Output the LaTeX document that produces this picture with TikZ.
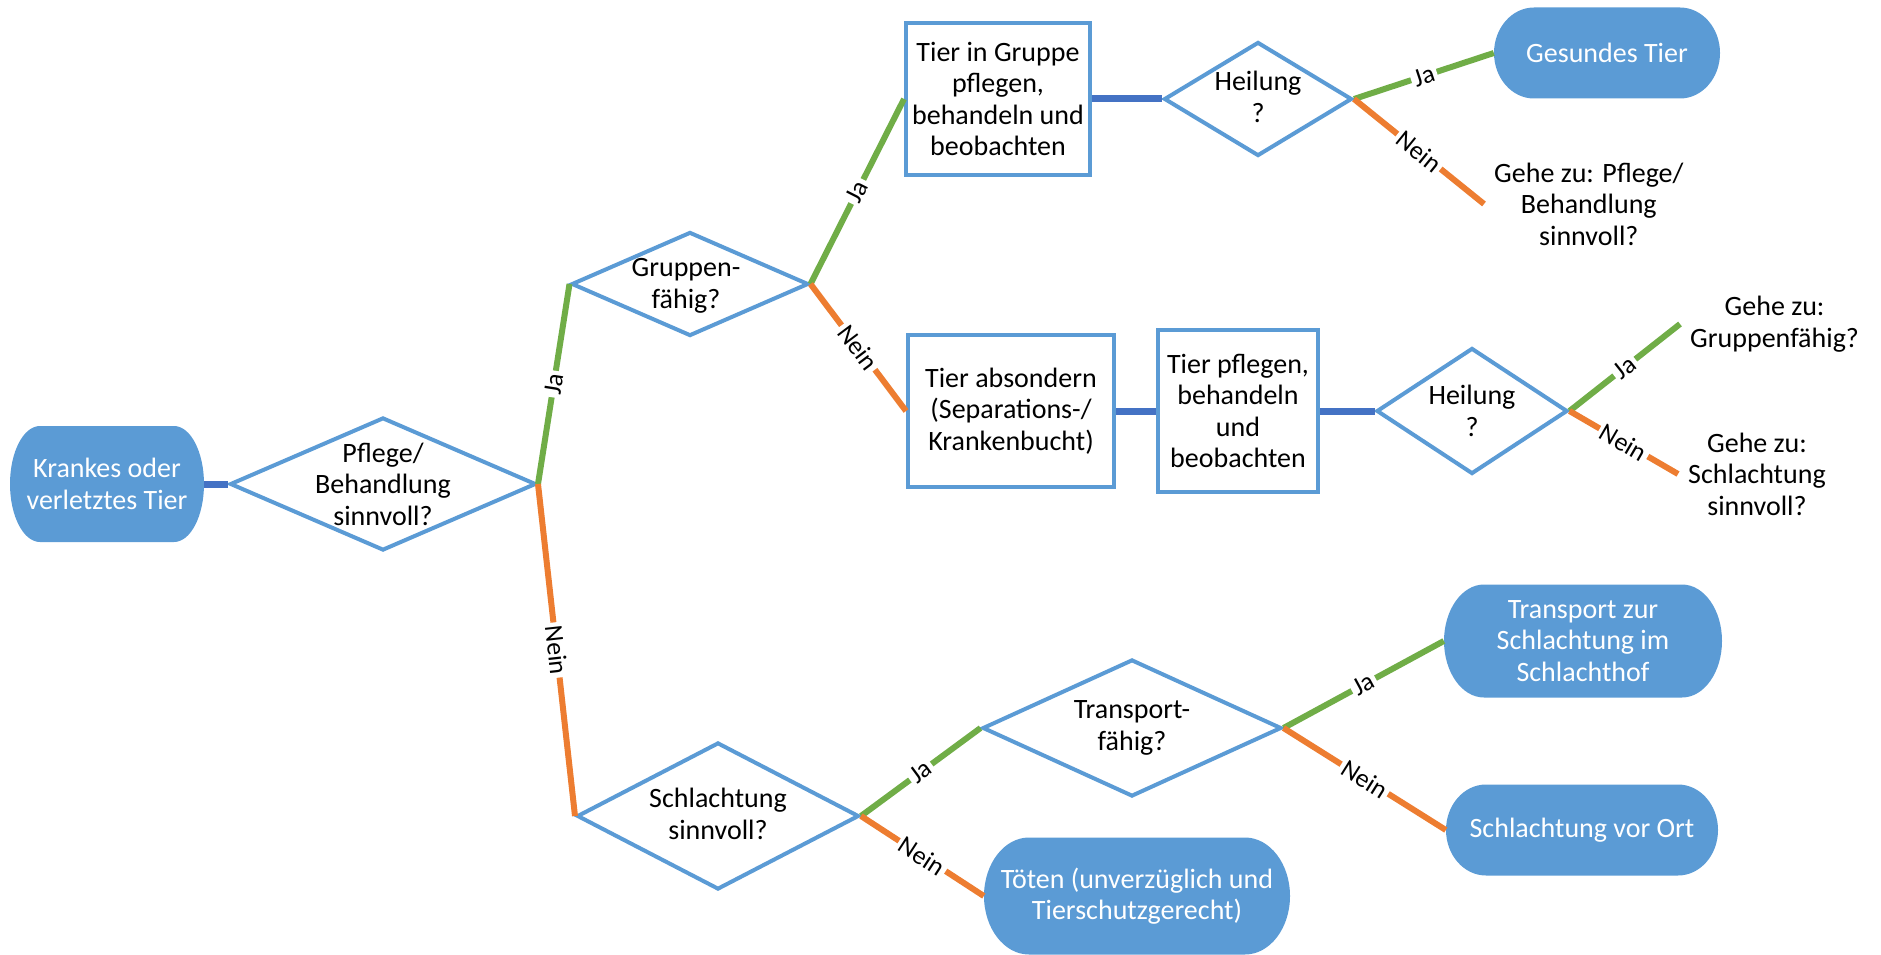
\documentclass[tikz,border=0pt]{standalone}
\usepackage{fontspec}
\setmainfont{Carlito}
\usetikzlibrary{shapes.geometric}
\definecolor{fillblue}{RGB}{91,155,213}
\definecolor{linkblue}{RGB}{68,114,196}
\definecolor{jagreen}{RGB}{112,173,71}
\definecolor{neinorange}{RGB}{237,125,49}
\tikzset{
  base/.style={font=\fontsize{28}{31.5}\selectfont, align=center},
  term/.style 2 args={base, text=white, inner sep=0pt,
    path picture={\fill[fillblue]
      ([xshift=#1]path picture bounding box.north west) --
      ([xshift=-#1]path picture bounding box.north east)
      arc[start angle=90, end angle=-90, x radius=#1, y radius=#2] --
      ([xshift=#1]path picture bounding box.south west)
      arc[start angle=270, end angle=90, x radius=#1, y radius=#2] -- cycle;}},
  procbox/.style={base, draw=fillblue, line width=4pt, fill=white, inner sep=0pt},
  dia/.style={diamond, draw=fillblue, line width=4pt, inner sep=0pt},
  goto/.style={base, inner sep=10pt},
  link/.style={draw=linkblue, line width=7pt},
  yes/.style={draw=jagreen, line width=6pt},
  no/.style={draw=neinorange, line width=6pt},
  lab/.style={font=\fontsize{26}{30}\selectfont, fill=white, sloped, inner sep=3pt, pos=0.5},
}
\begin{document}
\begin{tikzpicture}[x=1pt,y=-1pt]
\useasboundingbox (0,0) rectangle (1881,955);

% terminals
\node[term={30pt}{58pt}, minimum width=194pt, minimum height=116pt] (start) at (107,484) {Krankes oder\\verletztes Tier};
\node[term={40pt}{45.5pt}, minimum width=226pt, minimum height=91pt] (gesund) at (1607,53) {Gesundes Tier};
\node[term={40pt}{56.5pt}, minimum width=278pt, minimum height=113pt] (transp) at (1583,641) {Transport zur\\Schlachtung im\\Schlachthof};
\node[term={40pt}{45.5pt}, minimum width=272pt, minimum height=91pt] (vorort) at (1582,830) {Schlachtung vor Ort};
\node[term={45pt}{58.5pt}, minimum width=306pt, minimum height=117pt] (toeten) at (1137,896) {Töten (unverzüglich und\\Tierschutzgerecht)};

% diamonds
\node[dia, minimum width=306pt, minimum height=133pt] (d1) at (383,484) {};
\node[base] (d1t) at (383,484) {Pflege/\\Behandlung\\sinnvoll?};
\node[dia, minimum width=237pt, minimum height=104pt] (d2) at (690,284) {};
\node[base] (d2t) at (686,286) {Gruppen-\\fähig?};
\node[dia, minimum width=188pt, minimum height=114pt] (h1) at (1258,99) {};
\node[base] (h1t) at (1258,97) {Heilung\\?};
\node[dia, minimum width=191pt, minimum height=126pt] (h2) at (1472,411) {};
\node[base] (h2t) at (1472,411) {Heilung\\?};
\node[dia, minimum width=282pt, minimum height=147pt] (d3) at (718,816) {};
\node[base] (d3t) at (718,814) {Schlachtung\\sinnvoll?};
\node[dia, minimum width=299pt, minimum height=137pt] (d4) at (1132,728) {};
\node[base] (d4t) at (1132,728) {Transport-\\fähig?};

% process boxes
\node[procbox, minimum width=184pt, minimum height=151pt] (b1) at (998,99) {Tier in Gruppe\\pflegen,\\behandeln und\\beobachten};
\node[procbox, minimum width=206pt, minimum height=152pt] (b2) at (1011,411) {Tier absondern\\(Separations-/\\Krankenbucht)};
\node[procbox, minimum width=160pt, minimum height=162pt] (b3) at (1238,411) {Tier pflegen,\\behandeln\\und\\beobachten};

% goto texts
\node[goto, anchor=west] (g1) at (1484,204) {Gehe zu: Pflege/\\Behandlung\\sinnvoll?};
\node[goto, anchor=west] (g2) at (1680,324) {Gehe zu:\\Gruppenfähig?};
\node[goto, anchor=west] (g3) at (1678,474) {Gehe zu:\\Schlachtung\\sinnvoll?};

% blue links
\draw[link] (start.east) -- (d1.west);
\draw[link] (b1.east) -- (h1.west);
\draw[link] (b2.east) -- (b3.west);
\draw[link] (b3.east) -- (h2.west);

% Ja / Nein
\draw[yes] (d1.east) -- node[lab]{Ja} (d2.west);
\draw[no] (d1.east) -- node[lab]{Nein} (d3.west);
\draw[yes] (d2.east) -- node[lab]{Ja} (b1.west);
\draw[no] (d2.east) -- node[lab]{Nein} (b2.west);
\draw[yes] (h1.east) -- node[lab]{Ja} (gesund.west);
\draw[no] (h1.east) -- node[lab]{Nein} (g1.west);
\draw[yes] (h2.east) -- node[lab]{Ja} (g2.west);
\draw[no] (h2.east) -- node[lab]{Nein} (g3.west);
\draw[yes] (d3.east) -- node[lab]{Ja} (d4.west);
\draw[no] (d3.east) -- node[lab]{Nein} (toeten.west);
\draw[yes] (d4.east) -- node[lab]{Ja} (transp.west);
\draw[no] (d4.east) -- node[lab]{Nein} (vorort.west);
\end{tikzpicture}
\end{document}
